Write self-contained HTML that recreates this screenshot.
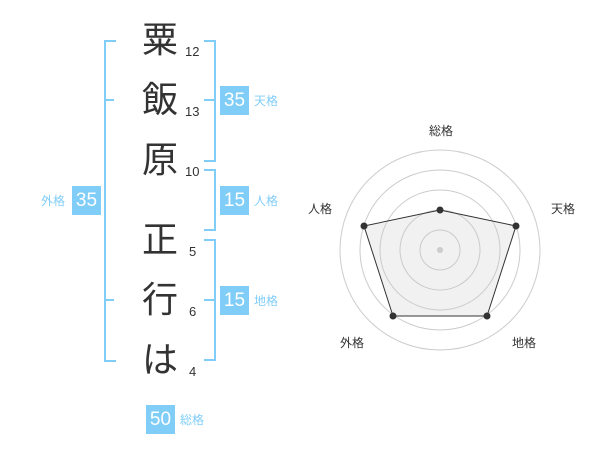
<!DOCTYPE html>
<html><head><meta charset="utf-8"><style>
body{margin:0;width:600px;height:470px;background:#fff;position:relative;font-family:"Liberation Sans","Noto Sans CJK JP",sans-serif;overflow:hidden}
.c{position:absolute;left:138px;width:44px;text-align:center;font-size:36px;line-height:40px;color:#333}
.n{position:absolute;font-size:13px;color:#333;line-height:14px}
.b{position:absolute;width:29px;height:29px;background:#80cdf8;color:#fff;font-size:19px;line-height:29px;text-align:center}
.l{position:absolute;font-size:12px;color:#80cdf8;line-height:14px}
.br{position:absolute;border:2px solid #80cdf8}
</style></head><body>
<div class="br" style="left:104px;top:40px;width:10px;height:318px;border-right:none"></div>
<div class="br" style="left:104px;top:99px;width:10px;height:0;border-width:2px 0 0 0"></div>
<div class="br" style="left:104px;top:299px;width:10px;height:0;border-width:2px 0 0 0"></div>
<div class="br" style="left:204px;top:40px;width:10px;height:118px;border-left:none"></div>
<div class="br" style="left:204px;top:99px;width:10px;height:0;border-width:2px 0 0 0"></div>
<div class="br" style="left:204px;top:169px;width:10px;height:58px;border-left:none"></div>
<div class="br" style="left:204px;top:239px;width:10px;height:118px;border-left:none"></div>
<div class="br" style="left:204px;top:299px;width:10px;height:0;border-width:2px 0 0 0"></div>
<div class="c" style="top:20px">粟</div>
<div class="c" style="top:80px">飯</div>
<div class="c" style="top:140px">原</div>
<div class="c" style="top:220px">正</div>
<div class="c" style="top:280px">行</div>
<div class="c" style="top:340px">は</div>
<div class="n" style="left:185px;top:45px">12</div>
<div class="n" style="left:185px;top:105px">13</div>
<div class="n" style="left:185px;top:165px">10</div>
<div class="n" style="left:189px;top:245px">5</div>
<div class="n" style="left:189px;top:305px">6</div>
<div class="n" style="left:189px;top:365px">4</div>
<div class="b" style="left:220px;top:86px">35</div><div class="l" style="left:254px;top:94px">天格</div>
<div class="b" style="left:220px;top:186px">15</div><div class="l" style="left:254px;top:194px">人格</div>
<div class="b" style="left:220px;top:286px">15</div><div class="l" style="left:254px;top:294px">地格</div>
<div class="b" style="left:72px;top:186px">35</div><div class="l" style="left:41px;top:194px">外格</div>
<div class="b" style="left:146px;top:405px">50</div><div class="l" style="left:180px;top:413px">総格</div>
<svg style="position:absolute;left:0;top:0" width="600" height="470">
<g fill="none" stroke="#ccc" stroke-width="1">
<circle cx="440" cy="250" r="20"/><circle cx="440" cy="250" r="40"/><circle cx="440" cy="250" r="60"/><circle cx="440" cy="250" r="80"/><circle cx="440" cy="250" r="100"/>
</g>
<polygon points="440,210 516,226 487,316 393,316 364,226" fill="rgba(200,200,200,0.25)" stroke="#333" stroke-width="1"/>
<circle cx="440" cy="250" r="3" fill="#ccc"/>
<g fill="#333"><circle cx="440" cy="210" r="3.5"/><circle cx="516" cy="226" r="3.5"/><circle cx="487" cy="316" r="3.5"/><circle cx="393" cy="316" r="3.5"/><circle cx="364" cy="226" r="3.5"/></g>
<g font-size="12" fill="#333" text-anchor="middle" font-family="Liberation Sans, Noto Sans CJK JP, sans-serif">
<text x="441" y="135">総格</text><text x="563" y="213">天格</text><text x="524" y="347">地格</text><text x="352" y="347">外格</text><text x="320" y="213">人格</text>
</g>
</svg>
</body></html>
